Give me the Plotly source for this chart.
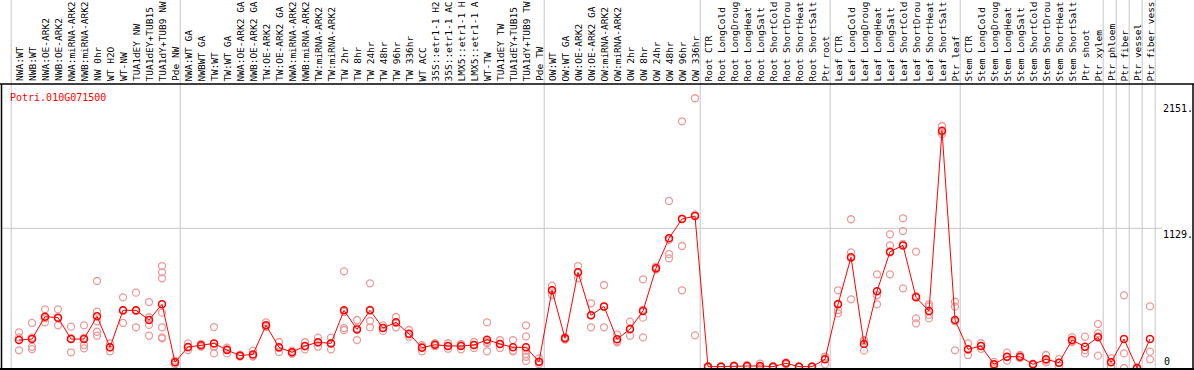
import plotly.graph_objects as go

# ---------------- data ----------------
gene = "Potri.010G071500"

categories = [
    "NWA:WT", "NWB:WT", "NWA:OE-ARK2", "NWB:OE-ARK2", "NWA:miRNA-ARK2", "NWB:miRNA-ARK2",
    "NW 0hr", "WT H2O", "WT-NW", "TUA1dEY NW", "TUA1dEY+TUB15", "TUA1dY+TUB9 NW", "Pde NW",
    "NWA:WT GA", "NWBWT GA", "TW:WT", "TW:WT GA", "NWA:OE-ARK2 GA", "NWB:OE-ARK2 GA",
    "TW:OE-ARK2", "TW:OE-ARK2 GA", "NWA:miRNA-ARK2", "NWB:miRNA-ARK2", "TW:miRNA-ARK2",
    "TW:miRNA-ARK2", "TW 2hr", "TW 8hr", "TW 24hr", "TW 48hr", "TW 96hr", "TW 336hr",
    "WT ACC", "35S::etr1-1 H2", "35S::etr1-1 AC", "LMX5::etr1-1 H", "LMX5::etr1-1 A",
    "WT-TW", "TUA1dEY TW", "TUA1dEY+TUB15", "TUA1dY+TUB9 TW", "Pde TW",
    "OW:WT", "OW:WT GA", "OW:OE-ARK2", "OW:OE-ARK2 GA", "OW:miRNA-ARK2", "OW:miRNA-ARK2",
    "OW 2hr", "OW 8hr", "OW 24hr", "OW 48hr", "OW 96hr", "OW 336hr",
    "Root CTR", "Root LongCold", "Root LongDroug", "Root LongHeat", "Root LongSalt",
    "Root ShortCold", "Root ShortDrou", "Root ShortHeat", "Root ShortSalt", "Ptr root",
    "Leaf CTR", "Leaf LongCold", "Leaf LongDroug", "Leaf LongHeat", "Leaf LongSalt",
    "Leaf ShortCold", "Leaf ShortDrou", "Leaf ShortHeat", "Leaf ShortSalt", "Ptr leaf",
    "Stem CTR", "Stem LongCold", "Stem LongDroug", "Stem LongHeat", "Stem LongSalt",
    "Stem ShortCold", "Stem ShortDrou", "Stem ShortHeat", "Stem ShortSalt",
    "Ptr shoot", "Ptr xylem", "Ptr phloem", "Ptr fiber", "Ptr vessel", "Ptr fiber vess",
]

means = [
    226, 234, 415, 407, 234, 234, 418, 167, 466, 466, 388, 515, 46,
    170, 183, 199, 145, 100, 110, 345, 167, 127, 178, 208, 199, 466, 312, 466, 323, 369,
    277, 164, 188, 178, 178, 186, 229, 194, 167, 167, 51,
    628, 240, 773, 426, 498, 232, 315, 461, 806, 1048, 1204, 1228,
    11, 11, 16, 16, 16, 11, 38, 11, 11, 70,
    515, 895, 194, 620, 940, 991, 571, 461, 1918, 388,
    151, 178, 30, 91, 91, 30, 70, 43, 226, 172, 248, 46, 234, 0, 234,
]

replicates = [
    [288, 143, 247], [364, 172, 153, 247], [474, 369, 402], [474, 345, 402],
    [334, 127, 241], [345, 186, 159, 246], [703, 455, 293, 261, 378], [167, 135, 199],
    [571, 364, 463], [609, 329, 460], [533, 348, 261, 410],
    [824, 773, 725, 447, 329, 248, 240], [30, 60, 48],
    [199, 145, 166], [195, 172, 183], [331, 118, 172, 175], [165, 118, 152],
    [100, 92, 108], [140, 95, 95], [369, 330, 336], [210, 129, 162], [140, 115, 126],
    [208, 151, 175], [245, 172, 207], [245, 151, 201], [781, 323, 307, 453],
    [388, 226, 322], [684, 380, 329, 471], [345, 300, 324], [412, 329, 366],
    [307, 253, 271], [185, 135, 172], [200, 176, 188], [200, 156, 178], [195, 151, 188],
    [210, 162, 186], [369, 135, 200, 212], [226, 162, 194], [226, 135, 140],
    [345, 256, 140, 91, 57, 113], [46, 30, 77],
    [665, 590, 629], [250, 230, 240], [824, 725, 770], [523, 329, 426], [671, 329, 494],
    [272, 208, 216], [374, 261, 310], [717, 407, 248, 472], [820, 800, 798],
    [1350, 921, 886, 1035], [1994, 986, 628, 1208], [2180, 264, 1240],
    [5, 15, 13], [8, 14, 11], [12, 20, 16], [10, 25, 13], [8, 35, 5], [6, 14, 13],
    [30, 45, 39], [7, 13, 13], [9, 12, 12], [91, 30, 89],
    [628, 469, 442, 521], [1202, 935, 555, 888], [226, 140, 216], [757, 515, 588],
    [1080, 991, 757, 932], [1210, 1107, 644, 1003], [940, 401, 361, 582],
    [515, 401, 430, 498], [1956, 1890, 1908], [536, 496, 143, 377],
    [199, 105, 149], [200, 155, 179], [30, 10, 50], [124, 60, 89], [105, 80, 88],
    [30, 25, 35], [105, 45, 60], [43, 15, 71], [250, 210, 218], [253, 118, 145],
    [356, 280, 100, 256], [78, 11, 49], [587, 118, 0], [0, 0, 0], [498, 132, 70],
]

# groups end after these category indices (-1 = left edge)
group_ends = [-1, 12, 40, 52, 62, 72, 83, 84, 85, 86, 87]

tick_values = [0, 1129, 2151]
tick_labels = ["0", "1129.", "2151."]

# ---------------- layout geometry ----------------
W, H = 1194, 370
X0_PX, STEP_PX = 19, 13          # pixel x of first category, spacing
ZERO_PX, UNITS_PER_PX = 368, 8.082
PLOT_TOP_PX, PLOT_BOT_PX = 84, 369
RIGHT_PX = 1162

def py_to_paper(py):
    return 1 - py / H

def px_to_paper(px):
    return px / W

xs = list(range(len(categories)))
rep_x = [i for i, reps in enumerate(replicates) for _ in reps]
rep_y = [v for reps in replicates for v in reps]

FONT = "DejaVu Sans Mono"
GRID = "#c6c6c6"

fig = go.Figure()
fig.add_trace(go.Scatter(
    x=rep_x, y=rep_y, mode="markers",
    marker=dict(symbol="circle-open", size=7, color="#ec9a9a", line=dict(width=1.3)),
    hoverinfo="skip", showlegend=False,
))
fig.add_trace(go.Scatter(
    x=xs, y=means, mode="lines+markers",
    line=dict(color="#ff0000", width=1),
    marker=dict(symbol="circle-open", size=7, color="#ff0000", line=dict(width=1.5)),
    text=categories, showlegend=False,
))

shapes = []
# group separators (full height)
for g in group_ends:
    shapes.append(dict(type="line", xref="x", yref="paper", x0=g + 0.4, x1=g + 0.4,
                       y0=py_to_paper(PLOT_BOT_PX), y1=1, line=dict(color=GRID, width=1),
                       layer="below"))
# middle gridline
shapes.append(dict(type="line", xref="paper", yref="y", x0=px_to_paper(1), x1=px_to_paper(RIGHT_PX),
                   y0=tick_values[1], y1=tick_values[1], line=dict(color=GRID, width=1), layer="below"))
# frame lines
shapes.append(dict(type="line", xref="paper", yref="paper", x0=0, x1=1,
                   y0=py_to_paper(PLOT_TOP_PX), y1=py_to_paper(PLOT_TOP_PX), line=dict(color="black", width=1.5)))
shapes.append(dict(type="line", xref="paper", yref="paper", x0=0, x1=1,
                   y0=py_to_paper(PLOT_BOT_PX), y1=py_to_paper(PLOT_BOT_PX), line=dict(color="black", width=2)))
shapes.append(dict(type="line", xref="paper", yref="paper", x0=px_to_paper(1.5), x1=px_to_paper(1.5),
                   y0=py_to_paper(PLOT_BOT_PX), y1=py_to_paper(PLOT_TOP_PX), line=dict(color="black", width=1.5)))
shapes.append(dict(type="line", xref="paper", yref="paper", x0=px_to_paper(1193), x1=px_to_paper(1193),
                   y0=py_to_paper(PLOT_BOT_PX), y1=py_to_paper(PLOT_TOP_PX), line=dict(color="black", width=1.5)))

annotations = []
for i, c in enumerate(categories):
    annotations.append(dict(x=i, xref="x", y=py_to_paper(82.5), yref="paper", text=c,
                            textangle=-90, xanchor="center", yanchor="bottom", showarrow=False,
                            borderpad=0, font=dict(family=FONT, size=9.5, color="black")))
# gene name
annotations.append(dict(x=px_to_paper(9), xref="paper", y=py_to_paper(97), yref="paper", text=gene,
                        xanchor="left", yanchor="middle", showarrow=False, borderpad=0,
                        font=dict(family=FONT, size=10, color="#ff0000")))
# value axis labels
for v, t in zip(tick_values, tick_labels):
    if v == 0:
        annotations.append(dict(x=px_to_paper(1163), xref="paper", y=v, yref="y", text=t,
                                xanchor="left", yanchor="bottom", showarrow=False, borderpad=0,
                                font=dict(family=FONT, size=10, color="black")))
    else:
        annotations.append(dict(x=px_to_paper(1162), xref="paper", y=v, yref="y", text=t,
                                xanchor="left", yanchor="top", showarrow=False, borderpad=0,
                                font=dict(family=FONT, size=10, color="black")))

fig.update_layout(
    width=W, height=H,
    margin=dict(l=0, r=0, t=0, b=0),
    paper_bgcolor="white", plot_bgcolor="white",
    xaxis=dict(range=[(0 - X0_PX) / STEP_PX, (W - X0_PX) / STEP_PX], visible=False, fixedrange=True),
    yaxis=dict(range=[(ZERO_PX - H) * UNITS_PER_PX, ZERO_PX * UNITS_PER_PX], visible=False, fixedrange=True),
    shapes=shapes, annotations=annotations,
    showlegend=False,
)

fig.write_html(
    "out.html",
    config={"displayModeBar": False},
    post_script="document.body.style.margin='0';document.body.style.padding='0';",
)
